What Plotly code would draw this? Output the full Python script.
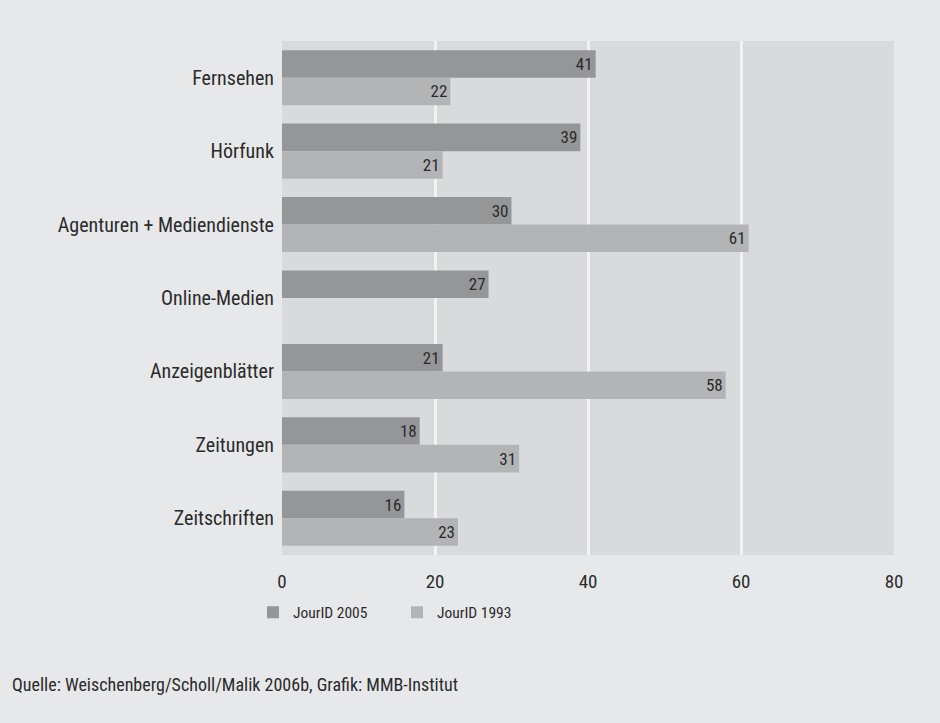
import plotly.graph_objects as go

categories = ["Fernsehen", "Hörfunk", "Agenturen + Mediendienste", "Online-Medien",
              "Anzeigenblätter", "Zeitungen", "Zeitschriften"]
values_2005 = [41, 39, 30, 27, 21, 18, 16]
values_1993 = [22, 21, 61, None, 58, 31, 23]
series_names = ["JourID 2005", "JourID 1993"]
x_ticks = [0, 20, 40, 60, 80]
source_text = "Quelle: Weischenberg/Scholl/Malik 2006b, Grafik: MMB-Institut"

FONT = "Roboto Condensed, Liberation Sans, Arial, sans-serif"
TXT = "#2b2b2b"
W = 400

fig = go.Figure()
for name, vals, col in [(series_names[0], values_2005, "#959698"),
                        (series_names[1], values_1993, "#b3b4b5")]:
    fig.add_trace(go.Bar(
        y=categories, x=vals, name=name, orientation="h",
        marker=dict(color=col, line=dict(width=0)),
        text=[("" if v is None else str(v)) for v in vals],
        textposition="inside", insidetextanchor="end",
        textangle=0, constraintext="none",
        textfont=dict(family=FONT, size=17, color=TXT, weight=W),
        hoverinfo="x+y",
    ))

fig.update_layout(
    width=940, height=723,
    margin=dict(l=282, r=46, t=41, b=168, autoexpand=False),
    paper_bgcolor="#e7e8e9", plot_bgcolor="#d9dadc",
    barmode="group", bargap=0.25, bargroupgap=0,
    font=dict(family=FONT, color=TXT, size=17, weight=W),
    showlegend=True,
    legend=dict(orientation="h", x=-0.0474, xanchor="left", y=-0.079, yanchor="top",
                bgcolor="rgba(0,0,0,0)",
                font=dict(size=15.5, family=FONT, color=TXT, weight=W),
                entrywidth=99, entrywidthmode="pixels", traceorder="normal",
                itemwidth=30),
    xaxis=dict(range=[0, 80], tickvals=x_ticks, showgrid=True, gridcolor="#f2f2f2",
               gridwidth=3, zeroline=False, showline=False, ticks="",
               tickfont=dict(size=19, family=FONT, color=TXT, weight=W),
               ticklabelstandoff=13),
    yaxis=dict(categoryorder="array", categoryarray=categories, autorange="reversed",
               showgrid=False, zeroline=False, showline=False, ticks="",
               tickfont=dict(size=20, family=FONT, color=TXT, weight=W),
               ticklabelstandoff=7),
    annotations=[dict(text=source_text, xref="paper", yref="paper", x=-282/612,
                      xanchor="left", y=-(684 - 555) / 514, yanchor="middle",
                      showarrow=False,
                      font=dict(size=18, family=FONT, color=TXT, weight=W),
                      xshift=10)],
)

fig.write_html("out.html", config={"displayModeBar": False},
               post_script="document.body.style.margin='0';document.body.style.overflow='hidden';")
